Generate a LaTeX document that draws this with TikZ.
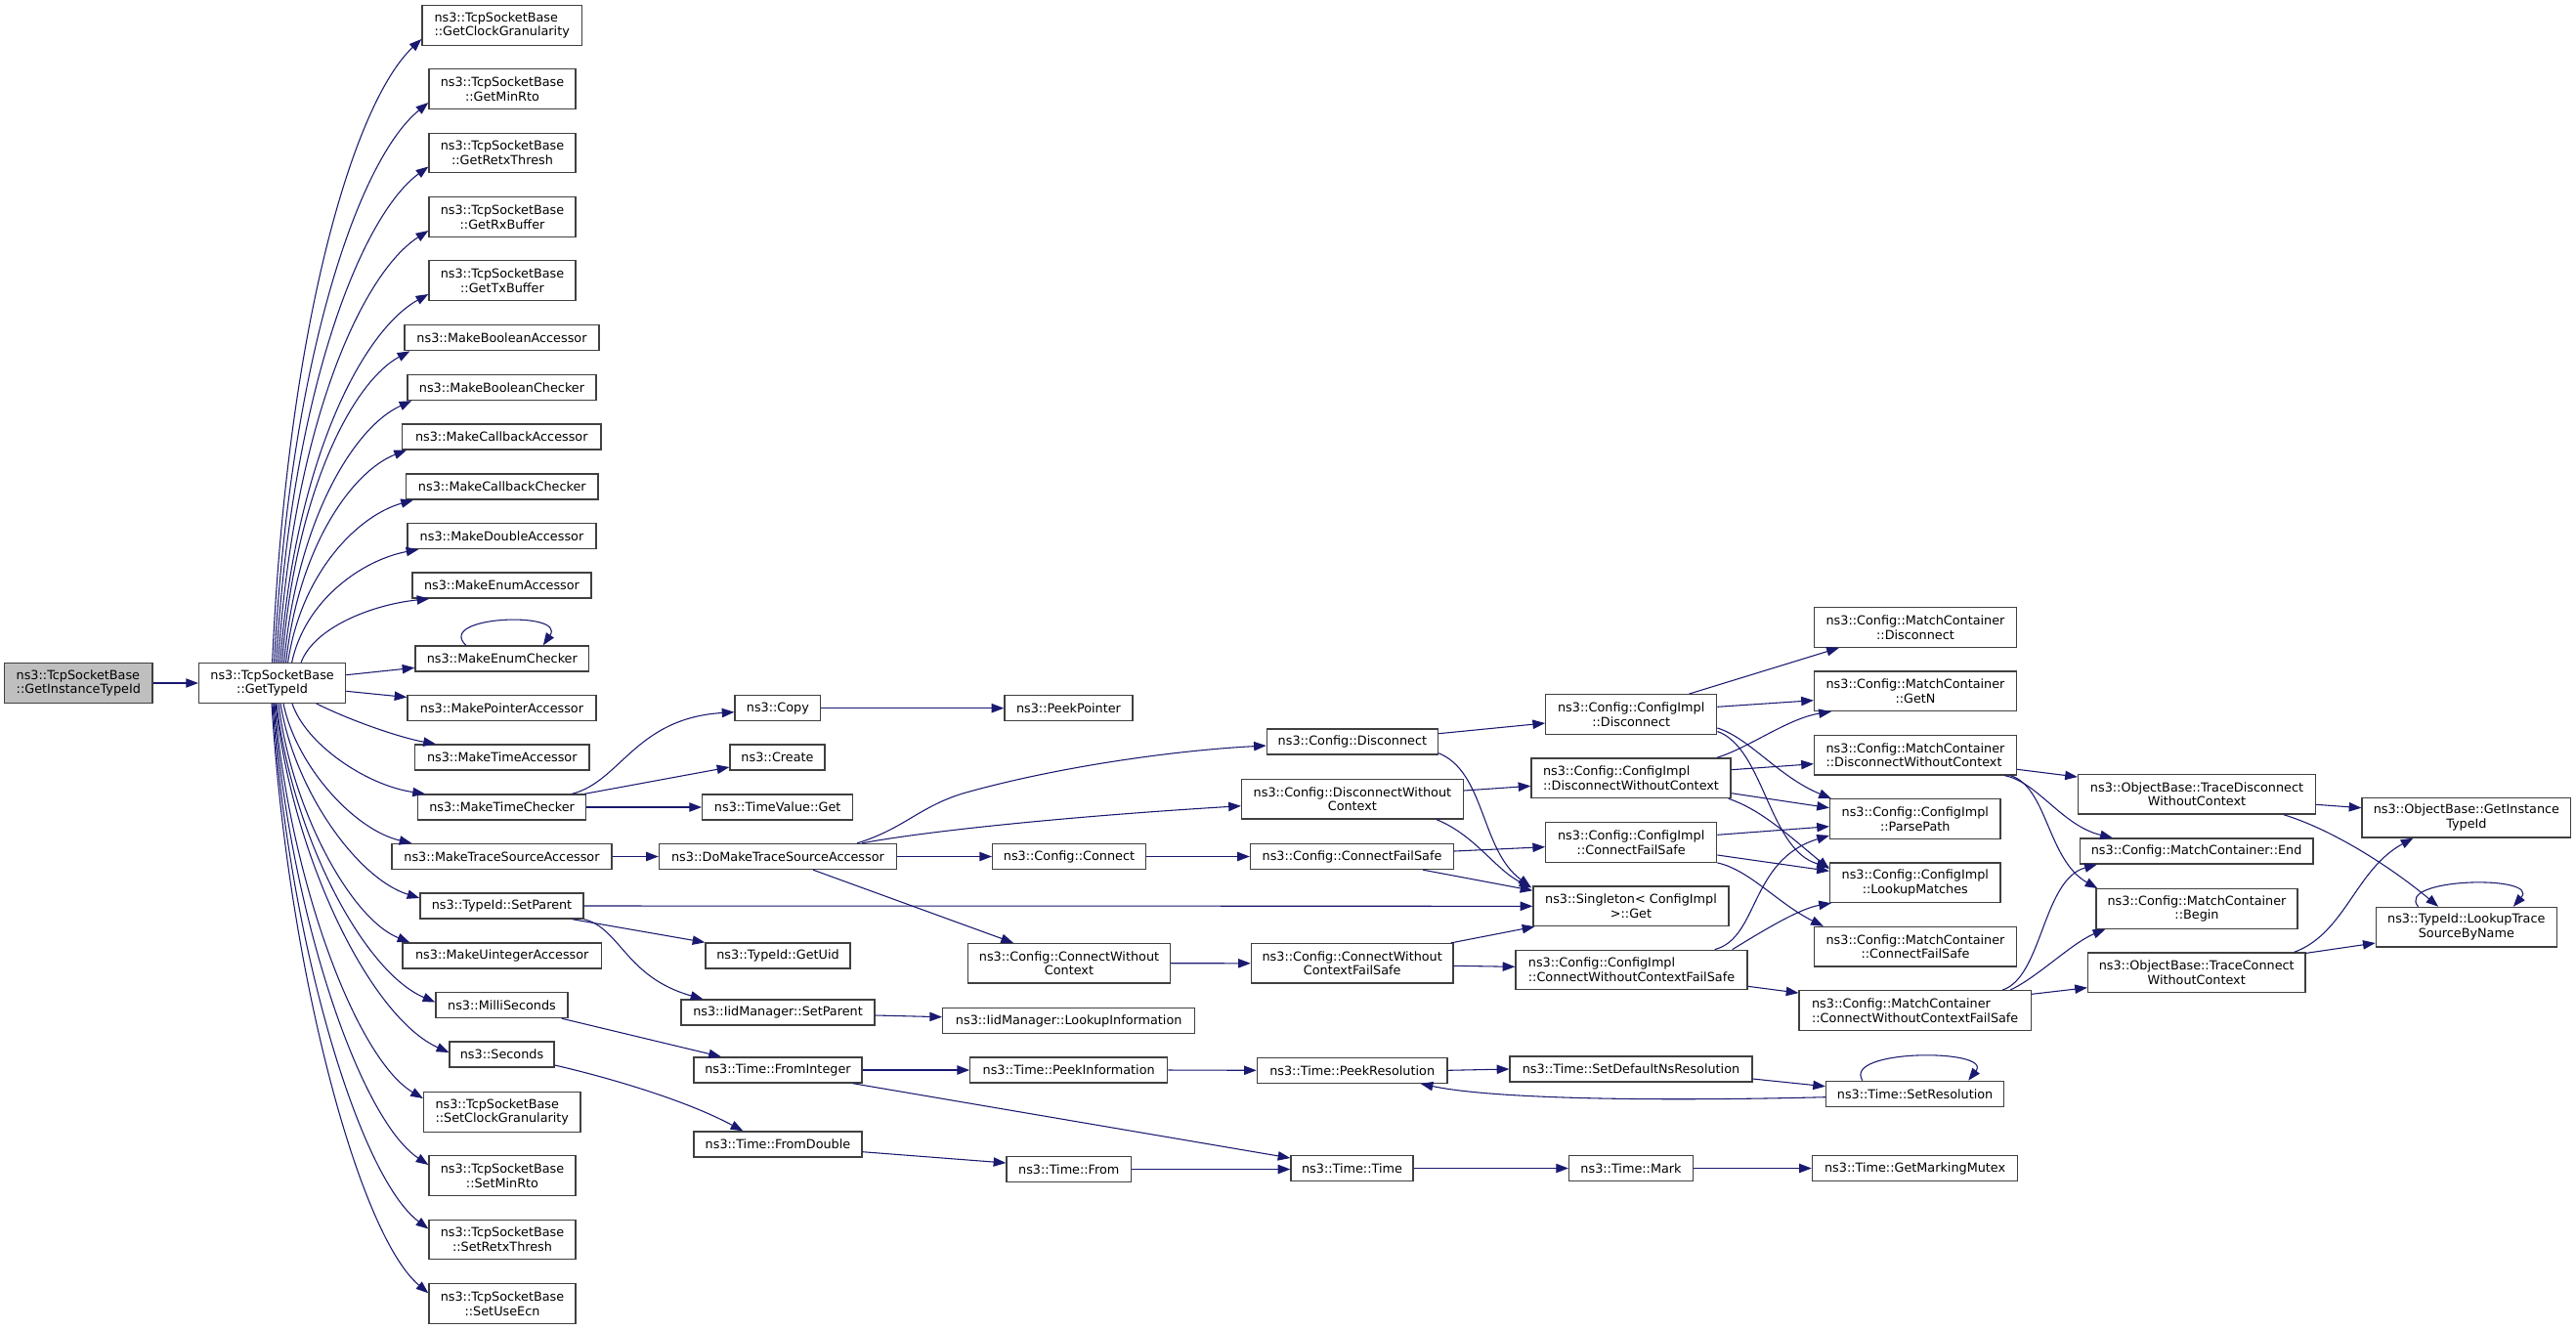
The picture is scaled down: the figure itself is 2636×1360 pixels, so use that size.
\documentclass[tikz,border=0pt]{standalone}
\usepackage{fontspec}
\newfontfamily\dvs{DejaVu Sans}
\usetikzlibrary{arrows.meta,calc}
\definecolor{navyc}{HTML}{191970}
\definecolor{bordc}{HTML}{404040}
\begin{document}
\begin{tikzpicture}[x=0.75pt,y=-0.75pt,
  nbox/.style={draw=bordc, line width=1pt, fill=white, align=center, inner sep=0pt,
    font={\dvs\fontsize{9.6}{11}\selectfont}, minimum height=26*0.75pt},
  nbox2/.style={nbox, minimum height=40.5*0.75pt},
  lft/.style={align=left},
  bw/.style={minimum width=#1*0.75pt},
  edge/.style={draw=navyc, line width=0.8pt, -{Triangle[length=9.5pt,width=7pt]}}]
\fill[white] (0,0) rectangle (2636,1360);
\useasboundingbox (0,0) rectangle (2636,1360);

% column 1-2
\node[nbox2, lft, bw=151.5, fill=black!25] (gi) at (80.3,699) {ns3::TcpSocketBase\\::GetInstanceTypeId};
\node[nbox2, bw=150] (gt) at (278.6,699) {ns3::TcpSocketBase\\::GetTypeId};

% column 3
\node[nbox2, lft, bw=163.5] (c1) at (513.7,26) {ns3::TcpSocketBase\\::GetClockGranularity};
\node[nbox2, bw=150] (c2) at (514,91) {ns3::TcpSocketBase\\::GetMinRto};
\node[nbox2, bw=150] (c3) at (514,156.5) {ns3::TcpSocketBase\\::GetRetxThresh};
\node[nbox2, bw=150] (c4) at (514,222) {ns3::TcpSocketBase\\::GetRxBuffer};
\node[nbox2, bw=150] (c5) at (514,287) {ns3::TcpSocketBase\\::GetTxBuffer};
\node[nbox, bw=199] (c6) at (513.5,345.7) {ns3::MakeBooleanAccessor};
\node[nbox, bw=193] (c7) at (513.5,396.5) {ns3::MakeBooleanChecker};
\node[nbox, bw=203.4] (c8) at (513.3,447) {ns3::MakeCallbackAccessor};
\node[nbox, bw=196.4] (c9) at (513.8,498) {ns3::MakeCallbackChecker};
\node[nbox, bw=193] (c10) at (513.5,548.5) {ns3::MakeDoubleAccessor};
\node[nbox, bw=183] (c11) at (513.5,599) {ns3::MakeEnumAccessor};
\node[nbox, bw=177.6] (c12) at (513.8,674) {ns3::MakeEnumChecker};
\node[nbox, bw=193] (c13) at (513.5,724.5) {ns3::MakePointerAccessor};
\node[nbox, bw=178.5] (c14) at (513.8,775) {ns3::MakeTimeAccessor};
\node[nbox, bw=172] (c15) at (513.6,826) {ns3::MakeTimeChecker};
\node[nbox, bw=225] (c16) at (513.5,876.5) {ns3::MakeTraceSourceAccessor};
\node[nbox, bw=167] (c17) at (513.5,927) {ns3::TypeId::SetParent};
\node[nbox, bw=203.6] (c18) at (513.8,978) {ns3::MakeUintegerAccessor};
\node[nbox, bw=135] (c19) at (513.5,1028.5) {ns3::MilliSeconds};
\node[nbox, bw=107] (c20) at (513.5,1079) {ns3::Seconds};
\node[nbox2, lft, bw=160.5] (c21) at (513.8,1138) {ns3::TcpSocketBase\\::SetClockGranularity};
\node[nbox2, bw=150] (c22) at (514,1203) {ns3::TcpSocketBase\\::SetMinRto};
\node[nbox2, bw=150] (c23) at (514,1268.5) {ns3::TcpSocketBase\\::SetRetxThresh};
\node[nbox2, bw=150] (c24) at (514,1334) {ns3::TcpSocketBase\\::SetUseEcn};

% column 4
\node[nbox, bw=87.7] (copy) at (795.9,724.7) {ns3::Copy};
\node[nbox, bw=97] (create) at (795.5,775) {ns3::Create};
\node[nbox, bw=154] (tvget) at (795.7,826) {ns3::TimeValue::Get};
\node[nbox, bw=243] (domake) at (796,876.5) {ns3::DoMakeTraceSourceAccessor};
\node[nbox, bw=148] (getuid) at (796,978) {ns3::TypeId::GetUid};
\node[nbox, bw=198] (iidsp) at (796,1036) {ns3::IidManager::SetParent};
\node[nbox, bw=172] (fromint) at (796,1095) {ns3::Time::FromInteger};
\node[nbox, bw=172] (fromdbl) at (796,1171) {ns3::Time::FromDouble};

% column 5
\node[nbox, bw=131] (peekptr) at (1093.5,724.7) {ns3::PeekPointer};
\node[nbox, bw=156.7] (cconnect) at (1094,876.5) {ns3::Config::Connect};
\node[nbox2, bw=206.7] (cwc) at (1094,985.7) {ns3::Config::ConnectWithout\\Context};
\node[nbox, bw=258] (lookupinfo) at (1093.7,1044.5) {ns3::IidManager::LookupInformation};
\node[nbox, bw=201.8] (peekinfo) at (1093.7,1095) {ns3::Time::PeekInformation};
\node[nbox, bw=127.6] (from) at (1093.8,1196.5) {ns3::Time::From};

% column 6
\node[nbox, bw=175] (cdisc) at (1383.9,759) {ns3::Config::Disconnect};
\node[nbox2, bw=226.8] (cdwc) at (1383.9,817.7) {ns3::Config::DisconnectWithout\\Context};
\node[nbox, bw=208] (ccfs) at (1383.5,876.5) {ns3::Config::ConnectFailSafe};
\node[nbox2, bw=206.6] (ccwcfs) at (1383.7,985.8) {ns3::Config::ConnectWithout\\ContextFailSafe};
\node[nbox, bw=194.7] (peekres) at (1383.7,1095.3) {ns3::Time::PeekResolution};
\node[nbox, bw=125] (time) at (1383.5,1195.5) {ns3::Time::Time};

% column 7
\node[nbox2, bw=175] (cidisc) at (1669.2,731) {ns3::Config::ConfigImpl\\::Disconnect};
\node[nbox2, lft, bw=204] (cidwc) at (1669,796.3) {ns3::Config::ConfigImpl\\::DisconnectWithoutContext};
\node[nbox2, bw=175] (cicfs) at (1669.2,862) {ns3::Config::ConfigImpl\\::ConnectFailSafe};
\node[nbox2, bw=200] (singleton) at (1669,927.3) {ns3::Singleton< ConfigImpl\\ >::Get};
\node[nbox2, lft, bw=237] (cicwcfs) at (1669.5,992.5) {ns3::Config::ConfigImpl\\::ConnectWithoutContextFailSafe};
\node[nbox, bw=248] (setdefns) at (1669,1094) {ns3::Time::SetDefaultNsResolution};
\node[nbox, bw=126.8] (mark) at (1669,1195.5) {ns3::Time::Mark};

% column 8
\node[nbox2, bw=207] (mcdisc) at (1960,642) {ns3::Config::MatchContainer\\::Disconnect};
\node[nbox2, bw=207] (mcgetn) at (1960,707.3) {ns3::Config::MatchContainer\\::GetN};
\node[nbox2, lft, bw=207] (mcdwc) at (1960,772.7) {ns3::Config::MatchContainer\\::DisconnectWithoutContext};
\node[nbox2, bw=174.5] (parsepath) at (1959.8,838) {ns3::Config::ConfigImpl\\::ParsePath};
\node[nbox2, bw=174.5] (lookupm) at (1959.8,903.3) {ns3::Config::ConfigImpl\\::LookupMatches};
\node[nbox2, bw=207] (mccfs) at (1960,968.7) {ns3::Config::MatchContainer\\::ConnectFailSafe};
\node[nbox2, lft, bw=237.3] (mccwcfs) at (1959.7,1034) {ns3::Config::MatchContainer\\::ConnectWithoutContextFailSafe};
\node[nbox, bw=182] (setres) at (1959.6,1119.3) {ns3::Time::SetResolution};
\node[nbox, bw=210.3] (getmm) at (1959.6,1195.5) {ns3::Time::GetMarkingMutex};

% column 9
\node[nbox2, bw=243] (tdwc) at (2248,812.7) {ns3::ObjectBase::TraceDisconnect\\WithoutContext};
\node[nbox, bw=238.4] (mcend) at (2247.6,871) {ns3::Config::MatchContainer::End};
\node[nbox2, bw=206] (mcbegin) at (2248,930) {ns3::Config::MatchContainer\\::Begin};
\node[nbox2, bw=222.3] (tcwc) at (2247.7,995.3) {ns3::ObjectBase::TraceConnect\\WithoutContext};

% column 10
\node[nbox2, bw=213.7] (obgit) at (2523.9,836.7) {ns3::ObjectBase::GetInstance\\TypeId};
\node[nbox2, bw=185] (lookuptrace) at (2523.8,948.7) {ns3::TypeId::LookupTrace\\SourceByName};

% ---------- edges ----------
\draw[edge] (gi.east) -- (gt.west);

% upper fan
\draw[edge] ($(gt.north)+(0,0)$) .. controls (294.3,327.6) and (363.2,103.9) .. ($(c1.west)+(0,14)$);
\draw[edge] ($(gt.north)+(2,0)$) .. controls (296.8,363.3) and (367.9,162.4) .. ($(c2.west)+(0,14)$);
\draw[edge] ($(gt.north)+(4,0)$) .. controls (298.6,399) and (369.8,220.9) .. ($(c3.west)+(0,14)$);
\draw[edge] ($(gt.north)+(6,0)$) .. controls (300.4,435.4) and (369.7,280.3) .. ($(c4.west)+(0,14)$);
\draw[edge] ($(gt.north)+(8,0)$) .. controls (302.2,471.1) and (370.6,338.8) .. ($(c5.west)+(0,14)$);
\draw[edge] ($(gt.north)+(10,0)$) .. controls (302.1,502.8) and (361.1,390.7) .. ($(c6.south west)+(6,0)$);
\draw[edge] ($(gt.north)+(12,0)$) .. controls (304.1,530.7) and (363.1,436.3) .. ($(c7.south west)+(5,0)$);
\draw[edge] ($(gt.north)+(14,0)$) .. controls (305.4,558.6) and (361,481.9) .. ($(c8.south west)+(5,0)$);
\draw[edge] ($(gt.north)+(16,0)$) .. controls (307.9,586.6) and (365.7,527.8) .. ($(c9.south west)+(8,0)$);
\draw[edge] ($(gt.north)+(20,0)$) .. controls (312,614.3) and (370.5,573.1) .. ($(c10.south west)+(12,0)$);
\draw[edge] ($(gt.north)+(29.4,0)$) .. controls (321.2,642.2) and (380.6,618.7) .. ($(c11.south west)+(18,0)$);
\draw[edge] ($(gt.east)+(0,-8.3)$) -- ($(c12.west)+(0,9.3)$);
\draw[edge] ($(gt.east)+(0,8.3)$) -- ($(c13.west)+(0,-11)$);
% lower fan
\draw[edge] ($(gt.south)+(45,0)$) .. controls (360,738) and (410,755) .. ($(c14.north west)+(22,0)$);
\draw[edge] ($(gt.south)+(20.4,0)$) .. controls (312.7,761.3) and (374.6,803.6) .. ($(c15.north west)+(8,0)$);
\draw[edge] ($(gt.south)+(11.4,0)$) .. controls (303.2,784.1) and (362.6,849.2) .. ($(c16.north west)+(21,0)$);
\draw[edge] ($(gt.south)+(8.4,0)$) .. controls (301.3,809) and (365.7,899) .. ($(c17.west)+(0,-8)$);
\draw[edge] ($(gt.south)+(6.4,0)$) .. controls (298.5,829.7) and (359.3,940.4) .. ($(c18.north west)+(8,0)$);
\draw[edge] ($(gt.south)+(4.4,0)$) .. controls (299.3,856.9) and (372.6,994.8) .. ($(c19.west)+(0,-3)$);
\draw[edge] ($(gt.south)+(3.4,0)$) .. controls (299.8,880.1) and (379.9,1041.2) .. ($(c20.west)+(0,-2)$);
\draw[edge] ($(gt.south)+(2.4,0)$) .. controls (296.3,901.3) and (364.9,1083.5) .. ($(c21.west)+(0,-14)$);
\draw[edge] ($(gt.south)+(1.4,0)$) .. controls (295.9,931.9) and (367.5,1144.7) .. ($(c22.west)+(0,-11)$);
\draw[edge] ($(gt.south)+(0.4,0)$) .. controls (295,961.3) and (367,1203.7) .. ($(c23.west)+(0,-11)$);
\draw[edge] ($(gt.south)+(-0.6,0)$) .. controls (294.6,990.9) and (366.8,1262.9) .. ($(c24.west)+(0,-10.7)$);

% self loop MakeEnumChecker
\draw[edge] ($(c12.north)+(-37,0)$) .. controls (445,630) and (580,625) .. ($(c12.north)+(42,0)$);

% MakeTimeChecker
\draw[edge] ($(c15.north east)+(-15,0)$) .. controls (635,800) and (650,735) .. ($(copy.west)+(0,4)$);
\draw[edge] ($(c15.north east)+(-2,0)$) -- ($(create.west)+(0,10)$);
\draw[edge] (c15.east) -- (tvget.west);
\draw[edge] (copy.east) -- (peekptr.west);

% MakeTraceSourceAccessor chain
\draw[edge] (c16.east) -- (domake.west);
\draw[edge] ($(domake.north)+(81,0)$) .. controls (925,848) and (940,826) .. (985,812)
  .. controls (1080,785) and (1200,768) .. ($(cdisc.west)+(0,4)$);
\draw[edge] ($(domake.north)+(86,0)$) .. controls (950,850) and (1100,835) .. ($(cdwc.west)+(0,7)$);
\draw[edge] (domake.east) -- (cconnect.west);
\draw[edge] ($(domake.south)+(36,0)$) -- ($(cwc.north west)+(47,0)$);
\draw[edge] (cconnect.east) -- (ccfs.west);
\draw[edge] (cwc.east) -- (ccwcfs.west);

% Config layer
\draw[edge] ($(cdisc.east)+(0,-8.3)$) -- ($(cidisc.west)+(0,9)$);
\draw[edge] ($(cdisc.south east)+(0,-2)$) .. controls (1520,790) and (1515,870) .. ($(singleton.north west)+(-2,1)$);
\draw[edge] ($(cdwc.east)+(0,-8.7)$) -- ($(cidwc.west)+(0,8)$);
\draw[edge] ($(cdwc.south east)+(-28,0)$) .. controls (1510,855) and (1530,890) .. ($(singleton.north west)+(-1,2)$);
\draw[edge] ($(ccfs.east)+(0,-5.5)$) -- ($(cicfs.west)+(0,4.7)$);
\draw[edge] ($(ccfs.south east)+(-32,0)$) -- ($(singleton.west)+(0,-16)$);
\draw[edge] ($(ccwcfs.east)+(0,2.5)$) -- ($(cicwcfs.west)+(0,-3.2)$);
\draw[edge] ($(ccwcfs.north east)+(-3,0)$) -- ($(singleton.south west)+(2,0)$);
\draw[edge] (c17.east) -- (singleton.west);

% SetParent
\draw[edge] ($(c17.south east)+(-12,0)$) -- (getuid.north west);
\draw[edge] (c17.south east) .. controls (635,950) and (640,1000) .. ($(iidsp.north west)+(23,0)$);
\draw[edge] ($(iidsp.east)+(0,3)$) -- ($(lookupinfo.west)+(0,-3.8)$);

% Time chain
\draw[edge] ($(c19.south east)+(-7,0)$) -- ($(fromint.north west)+(28.6,0)$);
\draw[edge] ($(c20.east)+(0,11)$) .. controls (620,1102) and (700,1125) .. ($(fromdbl.north west)+(51,0)$);
\draw[edge] (fromint.east) -- (peekinfo.west);
\draw[edge] ($(fromint.south east)+(-10,0)$) -- ($(time.west)+(0,-10.5)$);
\draw[edge] ($(fromdbl.east)+(0,7.7)$) -- ($(from.west)+(0,-6.5)$);
\draw[edge] (from.east) -- (time.west|-from.east);
\draw[edge] (peekinfo.east) -- (peekres.west);
\draw[edge] (peekres.east) -- (setdefns.west);
\draw[edge] ($(setdefns.east)+(0,10)$) -- ($(setres.west)+(0,-7.6)$);
\draw[edge] ($(setres.west)+(0,3.4)$) .. controls (1700,1127) and (1530,1125) .. ($(peekres.south east)+(-28,0)$);
\draw[edge] ($(setres.north)+(-53.8,0)$) .. controls (1885,1073) and (2040,1073) .. ($(setres.north)+(54.6,0)$);
\draw[edge] (time.east) -- (mark.west);
\draw[edge] (mark.east) -- (getmm.west);

% ConfigImpl layer
\draw[edge] ($(cidisc.north east)+(-29,0)$) -- ($(mcdisc.south west)+(26,0)$);
\draw[edge] ($(cidisc.east)+(0,-7.7)$) -- ($(mcgetn.west)+(0,9.4)$);
\draw[edge] ($(cidisc.east)+(0,14)$) .. controls (1790,755) and (1820,795) .. ($(parsepath.north west)+(2,0)$);
\draw[edge] ($(cidisc.east)+(0,17.5)$) .. controls (1805,765) and (1810,870) .. ($(lookupm.west)+(0,-16)$);
\draw[edge] ($(cidwc.north east)+(-15,0)$) .. controls (1790,765) and (1830,735) .. ($(mcgetn.south west)+(18,0)$);
\draw[edge] ($(cidwc.east)+(0,-8.6)$) -- ($(mcdwc.west)+(0,9)$);
\draw[edge] ($(cidwc.east)+(0,15.4)$) -- ($(parsepath.west)+(0,-11.3)$);
\draw[edge] ($(cidwc.south east)+(-3,0)$) .. controls (1800,828) and (1825,850) .. ($(lookupm.west)+(0,-14)$);
\draw[edge] ($(cicfs.east)+(0,-7.7)$) -- ($(parsepath.west)+(0,7.7)$);
\draw[edge] ($(cicfs.east)+(0,13)$) -- ($(lookupm.west)+(0,-12)$);
\draw[edge] (cicfs.south east) .. controls (1790,890) and (1820,925) .. ($(mccfs.north west)+(10,0)$);
\draw[edge] ($(cicwcfs.north east)+(-34,0)$) .. controls (1800,960) and (1790,880) .. ($(parsepath.south west)+(0,-4)$);
\draw[edge] ($(cicwcfs.north east)+(-16,0)$) .. controls (1800,955) and (1840,930) .. ($(lookupm.south west)+(2,0)$);
\draw[edge] ($(cicwcfs.east)+(0,16.8)$) -- ($(mccwcfs.north west)+(0,3)$);

% MatchContainer layer
\draw[edge] ($(mcdwc.east)+(0,14.6)$) -- ($(tdwc.west)+(0,-17.7)$);
\draw[edge] ($(mcdwc.south east)+(-13,0)$) .. controls (2085,800) and (2110,845) .. ($(mcend.north west)+(34,0)$);
\draw[edge] ($(mcdwc.south east)+(-7,0)$) .. controls (2095,805) and (2095,880) .. ($(mcbegin.north west)+(2,0)$);
\draw[edge] ($(mccwcfs.north east)+(-30,0)$) .. controls (2090,1000) and (2090,900) .. ($(mcend.south west)+(18,0)$);
\draw[edge] ($(mccwcfs.north east)+(-22,0)$) .. controls (2085,1000) and (2120,965) .. ($(mcbegin.south west)+(10,0)$);
\draw[edge] ($(mccwcfs.east)+(0,-16.7)$) -- ($(tcwc.west)+(0,15.4)$);

% ObjectBase layer
\draw[edge] ($(tdwc.east)+(0,10.6)$) -- ($(obgit.west)+(0,-10)$);
\draw[edge] ($(tdwc.south east)+(-33.5,0)$) .. controls (2390,850) and (2450,890) .. ($(lookuptrace.north west)+(64.5,0)$);
\draw[edge] ($(tcwc.north east)+(-12,0)$) .. controls (2400,955) and (2410,890) .. ($(obgit.south west)+(53,0)$);
\draw[edge] ($(tcwc.north east)+(0,1)$) -- ($(lookuptrace.west)+(0,16.3)$);
\draw[edge] ($(lookuptrace.north)+(-49.3,0)$) .. controls (2450,898) and (2600,895) .. ($(lookuptrace.north)+(48,0)$);
\end{tikzpicture}
\end{document}
